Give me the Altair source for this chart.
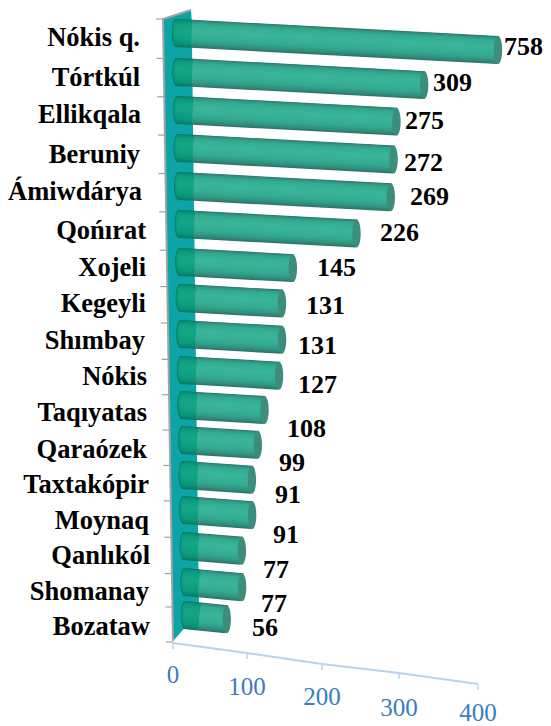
import altair as alt
import numpy as np
import pandas as pd

# ---------- data ----------
categories = ["Nókis q.", "Tórtkúl", "Ellikqala", "Beruniy", "Ámiwdárya", "Qońırat", "Xojeli",
              "Kegeyli", "Shımbay", "Nókis", "Taqıyatas", "Qaraózek", "Taxtakópir", "Moynaq",
              "Qanlıkól", "Shomanay", "Bozataw"]
values = [758, 309, 275, 272, 269, 226, 145, 131, 131, 127, 108, 99, 91, 91, 77, 77, 56]
axis_ticks = [0, 100, 200, 300, 400]

# ---------- layout (image pixels, the scales below map onto them) ----------
M = 8
W, H = 535, 718
X_DOMAIN = [-223, 0, 100, 200, 300, 400, 482]
X_RANGE = [0, 165, 239, 314, 391, 470, 535]
ROW_PX = [33, 72, 110, 148, 186, 224, 262, 298, 334, 370, 405, 440, 475, 510, 546, 582, 615]
Y_DOMAIN = [-0.65] + list(range(17)) + [19.3]
Y_RANGE = [0] + [p - M for p in ROW_PX] + [H]
AXIS_MAX = 400
DIAM = 28

xs = alt.Scale(domain=X_DOMAIN, range=X_RANGE, nice=False, zero=False)
ys = alt.Scale(domain=Y_DOMAIN, range=Y_RANGE, nice=False, zero=False)

def xi(px):
    return np.interp(np.asarray(px, float) - M, X_RANGE, X_DOMAIN)

def yi(px):
    return np.interp(np.asarray(px, float) - M, Y_RANGE, Y_DOMAIN)

n = len(values)
rows = np.arange(n)
t = rows / (n - 1)
vals = np.array(values, float)
sx = 176 + 9 * t
k = 0.805 - 0.06 * t
ex = sx + k * np.minimum(vals, AXIS_MAX)
sy = np.array(ROW_PX, float)
slope = 0.053 + 0.05 * t ** 4
ey = sy + slope * (ex - sx)
wall_x = 191.5 + 8 * (sy - 10) / 600
wall_y = sy + slope * (wall_x - sx)

MAIN = ["#2d7566", "#2f8372", "#30907d", "#329a86", "#33a28c", "#34a990", "#35ad93", "#36b095", "#37b296", "#38b498"]
OVER = ["#0c7564", "#0b826c", "#0b8e73", "#0c9578", "#0d9a7c", "#0e9e7f", "#10a081", "#11a283", "#13a484", "#14a586"]
LAYER_W = [28, 26.5, 24.5, 22, 19.5, 17, 14, 11, 8, 4]
LAYER_UP = [0, 0.3, 0.7, 1.1, 1.4, 1.7, 2.0, 2.2, 2.4, 2.5]
ELLIPSE = "M0,-1C0.165,-1 0.3,-0.55 0.3,0C0.3,0.55 0.165,1 0,1C-0.165,1 -0.3,0.55 -0.3,0C-0.3,-0.55 -0.165,-1 0,-1Z"

layers = []

# back wall
wy = [10, 19, 612, 641]
wl = [191, 163, 172.6, 173]
wr = [191, 191.7, 199, 173]
wall = pd.DataFrame({"y": yi(wy), "x": xi(wl), "x2": xi(wr)})
layers.append(alt.Chart(wall).mark_area(orient="horizontal", color="#0ca4a6").encode(
    y=alt.Y("y:Q", scale=ys, axis=None),
    x=alt.X("x:Q", scale=xs, axis=None, stack=None),
    x2="x2:Q"))

# wall outline
edge = pd.DataFrame({"x": xi([191, 163, 173]), "y": yi([10, 19, 641]), "o": [0, 1, 2]})
layers.append(alt.Chart(edge).mark_line(color="#a3a3a3", strokeWidth=2).encode(
    x=alt.X("x:Q", scale=xs, axis=None), y=alt.Y("y:Q", scale=ys, axis=None), order="o:Q"))

# left ticks
ty = np.append(sy - (14 - 6 * t), 642)
tx = 163 + 10 * (ty - 19) / 622
lt = pd.DataFrame({"x": xi(tx - 7), "x2": xi(tx), "y": yi(ty)})
layers.append(alt.Chart(lt).mark_rule(color="#a3a3a3", strokeWidth=1.2).encode(
    x=alt.X("x:Q", scale=xs, axis=None), x2="x2:Q", y=alt.Y("y:Q", scale=ys, axis=None)))

# cylinders
for c_over, c_main, w, up in zip(OVER, MAIN, LAYER_W, LAYER_UP):
    front = pd.DataFrame({"x": xi(sx), "x2": xi(wall_x), "y": yi(sy - up), "y2": yi(wall_y - up)})
    body = pd.DataFrame({"x": xi(wall_x), "x2": xi(ex), "y": yi(wall_y - up), "y2": yi(ey - up)})
    layers.append(alt.Chart(front).mark_point(shape=ELLIPSE, filled=True, opacity=1, size=w * w, color=c_over, strokeWidth=0).encode(
        x=alt.X("x:Q", scale=xs, axis=None), y=alt.Y("y:Q", scale=ys, axis=None)))
    layers.append(alt.Chart(front).mark_rule(color=c_over, strokeWidth=w).encode(
        x=alt.X("x:Q", scale=xs, axis=None), x2="x2:Q", y=alt.Y("y:Q", scale=ys, axis=None), y2="y2:Q"))
    layers.append(alt.Chart(body).mark_rule(color=c_main, strokeWidth=w).encode(
        x=alt.X("x:Q", scale=xs, axis=None), x2="x2:Q", y=alt.Y("y:Q", scale=ys, axis=None), y2="y2:Q"))

# end faces
ends = pd.DataFrame({"x": xi(ex), "y": yi(ey)})
layers.append(alt.Chart(ends).mark_point(shape=ELLIPSE, filled=True, opacity=1, size=DIAM * DIAM, color="#3c8d7c", strokeWidth=0).encode(
    x=alt.X("x:Q", scale=xs, axis=None), y=alt.Y("y:Q", scale=ys, axis=None)))

# category labels
cat_right = [140, 140, 141, 140, 142, 146, 146, 146, 145, 147, 147, 147, 149, 149, 150, 149, 150]
cat_y = [38, 78, 115, 155, 192, 231, 268, 304, 341, 377, 413, 450, 485, 521, 556, 592, 627]
cats = pd.DataFrame({"t": categories, "x": xi(cat_right), "y": yi(cat_y)})
layers.append(alt.Chart(cats).mark_text(font="Liberation Serif", fontWeight="bold", fontSize=26.5, align="right", baseline="middle", color="#000000").encode(
    x=alt.X("x:Q", scale=xs, axis=None), y=alt.Y("y:Q", scale=ys, axis=None), text="t:N"))

# value labels
val_left = [504, 433, 405, 404, 410, 380, 317, 306, 298, 298, 287, 279, 275, 273, 263, 261, 252]
val_y = [47, 83, 121, 163, 197, 233, 268, 306, 346, 385, 429, 463, 495, 535, 570, 604, 628]
vl = pd.DataFrame({"t": [str(v) for v in values], "x": xi(val_left), "y": yi(val_y)})
layers.append(alt.Chart(vl).mark_text(font="Liberation Serif", fontWeight="bold", fontSize=26, align="left", baseline="middle", color="#000000").encode(
    x=alt.X("x:Q", scale=xs, axis=None), y=alt.Y("y:Q", scale=ys, axis=None), text="t:N"))

# slanted value axis
axis_y = [643, 653, 664, 673, 684]
label_y = [675, 687, 697, 708, 713]
ax = pd.DataFrame({"v": axis_ticks, "y": yi(axis_y), "y2": yi(np.array(axis_y) + 6), "ly": yi(label_y), "t": [str(v) for v in axis_ticks]})
layers.append(alt.Chart(ax).mark_line(color="#b9d3ec", strokeWidth=2).encode(
    x=alt.X("v:Q", scale=xs, axis=None), y=alt.Y("y:Q", scale=ys, axis=None), order="v:Q"))
layers.append(alt.Chart(ax).mark_rule(color="#b9d3ec", strokeWidth=1.5).encode(
    x=alt.X("v:Q", scale=xs, axis=None), y=alt.Y("y:Q", scale=ys, axis=None), y2="y2:Q"))
layers.append(alt.Chart(ax).mark_text(font="Liberation Serif", fontSize=25, align="center", baseline="middle", color="#3a7cbd").encode(
    x=alt.X("v:Q", scale=xs, axis=None), y=alt.Y("ly:Q", scale=ys, axis=None), text="t:N"))

chart = alt.layer(*layers).properties(
    width=W, height=H, padding=0, autosize=alt.AutoSizeParams(type="none"),
    background="#ffffff"
).configure_view(stroke=None)

chart.save("out.html", embed_options={"renderer": "svg", "actions": False})
